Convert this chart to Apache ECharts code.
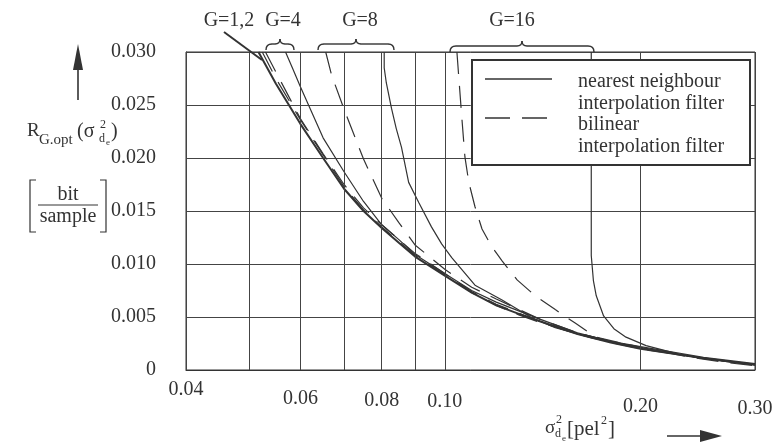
<!DOCTYPE html>
<html><head><meta charset="utf-8">
<script src="https://cdn.jsdelivr.net/npm/echarts@6/dist/echarts.min.js"></script>
<style>html,body{margin:0;padding:0;background:#fff}#c{width:779px;height:448px}</style>
</head><body><div id="c"></div>
<script>
// ---- data ----
const xGridValues = [0.04, 0.05, 0.06, 0.07, 0.08, 0.09, 0.10, 0.20, 0.30];
const xTickLabels = [0.04, 0.06, 0.08, 0.10, 0.20, 0.30];
const yTickLabels = ['0', '0.005', '0.010', '0.015', '0.020', '0.025', '0.030'];

const nearestG12 = [[0.0517,0.0300],[0.055,0.0270],[0.06,0.0232],[0.065,0.0200],[0.07,0.0171],[0.075,0.0150],[0.08,0.0134],[0.085,0.0120],[0.09,0.0107],[0.10,0.0089],[0.11,0.0073],[0.12,0.0061],[0.13,0.0053],[0.14,0.0046],[0.16,0.0034],[0.18,0.0026],[0.20,0.0020],[0.25,0.0011],[0.30,0.0005]];
const bilinearG12 = [[0.0524,0.0300],[0.055,0.0275],[0.06,0.0236],[0.065,0.0203],[0.07,0.0173],[0.075,0.0151],[0.08,0.0135],[0.085,0.0121],[0.09,0.0108],[0.10,0.0090],[0.11,0.0073],[0.12,0.0061],[0.13,0.0052],[0.14,0.0045],[0.16,0.0034],[0.18,0.0026],[0.20,0.0020],[0.25,0.0011],[0.30,0.0005]];
const nearestG4 = [[0.0569,0.0300],[0.0584,0.0284],[0.06,0.0267],[0.065,0.0219],[0.07,0.0187],[0.075,0.0159],[0.08,0.0137],[0.085,0.0123],[0.09,0.0109],[0.10,0.0091],[0.11,0.0075],[0.12,0.0064],[0.14,0.0048],[0.16,0.0035],[0.18,0.0027],[0.20,0.0022],[0.25,0.0012],[0.30,0.0006]];
const bilinearG4 = [[0.0530,0.0300],[0.055,0.0281],[0.06,0.0237],[0.065,0.0204],[0.07,0.0175],[0.075,0.0153],[0.08,0.0137],[0.09,0.0110],[0.10,0.0091],[0.11,0.0074],[0.12,0.0062],[0.14,0.0046],[0.16,0.0035],[0.18,0.0027],[0.20,0.0021],[0.25,0.0011],[0.30,0.0005]];
const nearestG8 = [[0.0807,0.0300],[0.0807,0.0285],[0.0813,0.0271],[0.0828,0.0247],[0.0842,0.0228],[0.0858,0.0210],[0.0880,0.0177],[0.0912,0.0158],[0.0954,0.0135],[0.0989,0.0119],[0.1025,0.0106],[0.1113,0.0080],[0.1225,0.0066],[0.1363,0.0049],[0.1479,0.0040],[0.1689,0.0030],[0.20,0.0021],[0.2386,0.0013],[0.30,0.0005]];
const bilinearG8 = [[0.0656,0.0300],[0.067,0.0278],[0.07,0.0246],[0.075,0.0199],[0.08,0.0162],[0.085,0.0139],[0.09,0.0118],[0.10,0.0095],[0.11,0.0078],[0.12,0.0067],[0.14,0.0048],[0.16,0.0035],[0.18,0.0027],[0.20,0.0021],[0.25,0.0011],[0.30,0.0005]];
const nearestG16 = [[0.168,0.0300],[0.168,0.0108],[0.1693,0.0084],[0.1710,0.0070],[0.1755,0.0051],[0.1820,0.0039],[0.1900,0.0031],[0.2040,0.0023],[0.2290,0.0015],[0.270,0.0008],[0.30,0.0005]];
const bilinearG16 = [[0.1044,0.0300],[0.1051,0.0276],[0.1062,0.0239],[0.1074,0.0201],[0.1089,0.0177],[0.1113,0.0154],[0.1141,0.0133],[0.1182,0.0116],[0.1225,0.0103],[0.1292,0.0085],[0.1378,0.0070],[0.1479,0.0057],[0.1589,0.0044],[0.1706,0.0031],[0.1852,0.0026],[0.2018,0.0021],[0.2386,0.0012],[0.2713,0.0007],[0.30,0.0004]];

// ---- chart ----
const FONT = 'Liberation Serif';
const INK = '#333';
const chart = echarts.init(document.getElementById('c'), null, {renderer: 'canvas'});

function curve(name, data, dashed, width) {
  return {
    name, type: 'line', data, showSymbol: false, symbol: 'none', silent: true,
    animation: false, z: 3,
    lineStyle: {color: INK, width: width || 1.2, type: dashed ? [22, 12] : 'solid'}
  };
}

function txt(text, x, y, size, align) {
  return {type: 'text', x, y, z: 60, style: {text, fontFamily: FONT, fontSize: size, fill: INK,
    textAlign: align || 'left', textVerticalAlign: 'middle'}};
}
function seg(x1, y1, x2, y2, w, dash) {
  const style = {stroke: INK, lineWidth: w || 1.4, fill: 'none'};
  if (dash) style.lineDash = dash;
  return {type: 'line', z: 60, shape: {x1, y1, x2, y2}, style};
}
function quad(x1, y1, cpx1, cpy1, x2, y2) {
  return {type: 'bezierCurve', z: 60, shape: {x1, y1, cpx1, cpy1, x2, y2},
    style: {stroke: INK, lineWidth: 1.4, fill: 'none'}};
}
function brace(x1, x2, cx, y) {
  return [
    quad(x1, y + 6, x1, y, x1 + 6, y),
    seg(x1 + 6, y, cx - 5, y),
    quad(cx - 5, y, cx, y, cx, y - 5),
    quad(cx, y - 5, cx, y, cx + 5, y),
    seg(cx + 5, y, x2 - 6, y),
    quad(x2 - 6, y, x2, y, x2, y + 6)
  ];
}
function polyline(points, w) {
  return {type: 'polyline', z: 60, shape: {points}, style: {stroke: INK, lineWidth: w || 1.2, fill: 'none'}};
}

const labelDistance = {0.04: 10, 0.06: 19, 0.08: 21, 0.10: 22, 0.20: 27, 0.30: 29};
const gridMarks = xGridValues.map(v => {
  const show = xTickLabels.indexOf(v) >= 0;
  return {xAxis: v, label: {show, formatter: v.toFixed(2), position: 'start',
    distance: labelDistance[v] || 20}};
});

const graphics = [].concat(
  [
    txt('G=1,2', 229, 21, 20, 'center'),
    txt('G=4', 283, 21, 20, 'center'),
    txt('G=8', 360, 21, 20, 'center'),
    txt('G=16', 512, 21, 20, 'center')
  ],
  brace(266, 294, 280, 44),
  brace(318, 394, 356, 44),
  brace(450, 594, 522, 46),
  [
    seg(224, 32, 262, 60, 2),
    // y axis title
    txt('R', 27, 131, 19),
    txt('G.opt', 39, 140, 15),
    txt('(σ', 77, 132, 20),
    txt('2', 100, 125, 12),
    txt('d', 99, 139, 12),
    txt('e', 106, 143, 9),
    txt(')', 111, 132, 20),
    polyline([[36, 180], [30, 180], [30, 232], [36, 232]]),
    polyline([[100, 180], [106, 180], [106, 232], [100, 232]]),
    seg(38, 205, 98, 205, 1),
    txt('bit', 68, 195, 20, 'center'),
    txt('sample', 68, 217, 20, 'center'),
    seg(78, 100, 78, 65, 1.6),
    {type: 'polygon', z: 60, shape: {points: [[73, 70], [83, 70], [78, 44]]}, style: {fill: INK}},
    // x axis title
    txt('σ', 545, 428, 19),
    txt('2', 556, 420, 12),
    txt('d', 555, 434, 12),
    txt('e', 562, 439, 9),
    txt('[pel', 567, 429, 21),
    txt('2', 601, 421, 12),
    txt(']', 608, 429, 21),
    seg(667, 436, 705, 436, 1.6),
    {type: 'polygon', z: 60, shape: {points: [[700, 430], [722, 436], [700, 442]]}, style: {fill: INK}},
    // legend
    {type: 'rect', z: 50, shape: {x: 472, y: 60, width: 278, height: 105}, style: {fill: '#fff', stroke: INK, lineWidth: 2}},
    seg(485, 79, 552, 79, 1.3),
    seg(485, 118, 547, 118, 1.3, [25, 12]),
    txt('nearest neighbour', 578, 82, 20),
    txt('interpolation filter', 578, 104, 20),
    txt('bilinear', 578, 125, 20),
    txt('interpolation filter', 578, 147, 20)
  ]
);

chart.setOption({
  backgroundColor: '#fff',
  animation: false,
  grid: {left: 186, top: 52, width: 569, height: 318, show: true, borderColor: INK, borderWidth: 1, backgroundColor: 'transparent'},
  xAxis: {type: 'log', logBase: 10, min: 0.04, max: 0.30,
    axisLine: {show: true, lineStyle: {color: INK}}, axisTick: {show: false},
    axisLabel: {show: false}, splitLine: {show: false}, minorSplitLine: {show: false}},
  yAxis: {type: 'value', min: 0, max: 0.030, interval: 0.005,
    axisLine: {show: true, lineStyle: {color: INK}}, axisTick: {show: false},
    axisLabel: {fontFamily: FONT, fontSize: 20, color: INK, margin: 30,
      formatter: (v) => yTickLabels[Math.round(v / 0.005)]},
    splitLine: {show: true, lineStyle: {color: '#444', width: 1}}},
  series: [
    {type: 'line', name: 'grid', data: [], silent: true, animation: false,
      markLine: {silent: true, animation: false, symbol: ['none', 'none'],
        lineStyle: {color: '#444', width: 1, type: 'solid'},
        label: {fontFamily: FONT, fontSize: 20, color: INK},
        emphasis: {disabled: true},
        data: gridMarks}},
    curve('nearest neighbour G=1,2', nearestG12, false, 2),
    curve('bilinear G=1,2', bilinearG12, true, 1.2),
    curve('nearest neighbour G=4', nearestG4, false),
    curve('bilinear G=4', bilinearG4, true),
    curve('nearest neighbour G=8', nearestG8, false),
    curve('bilinear G=8', bilinearG8, true),
    curve('nearest neighbour G=16', nearestG16, false),
    curve('bilinear G=16', bilinearG16, true)
  ],
  graphic: {elements: graphics}
});
</script>
</body></html>
